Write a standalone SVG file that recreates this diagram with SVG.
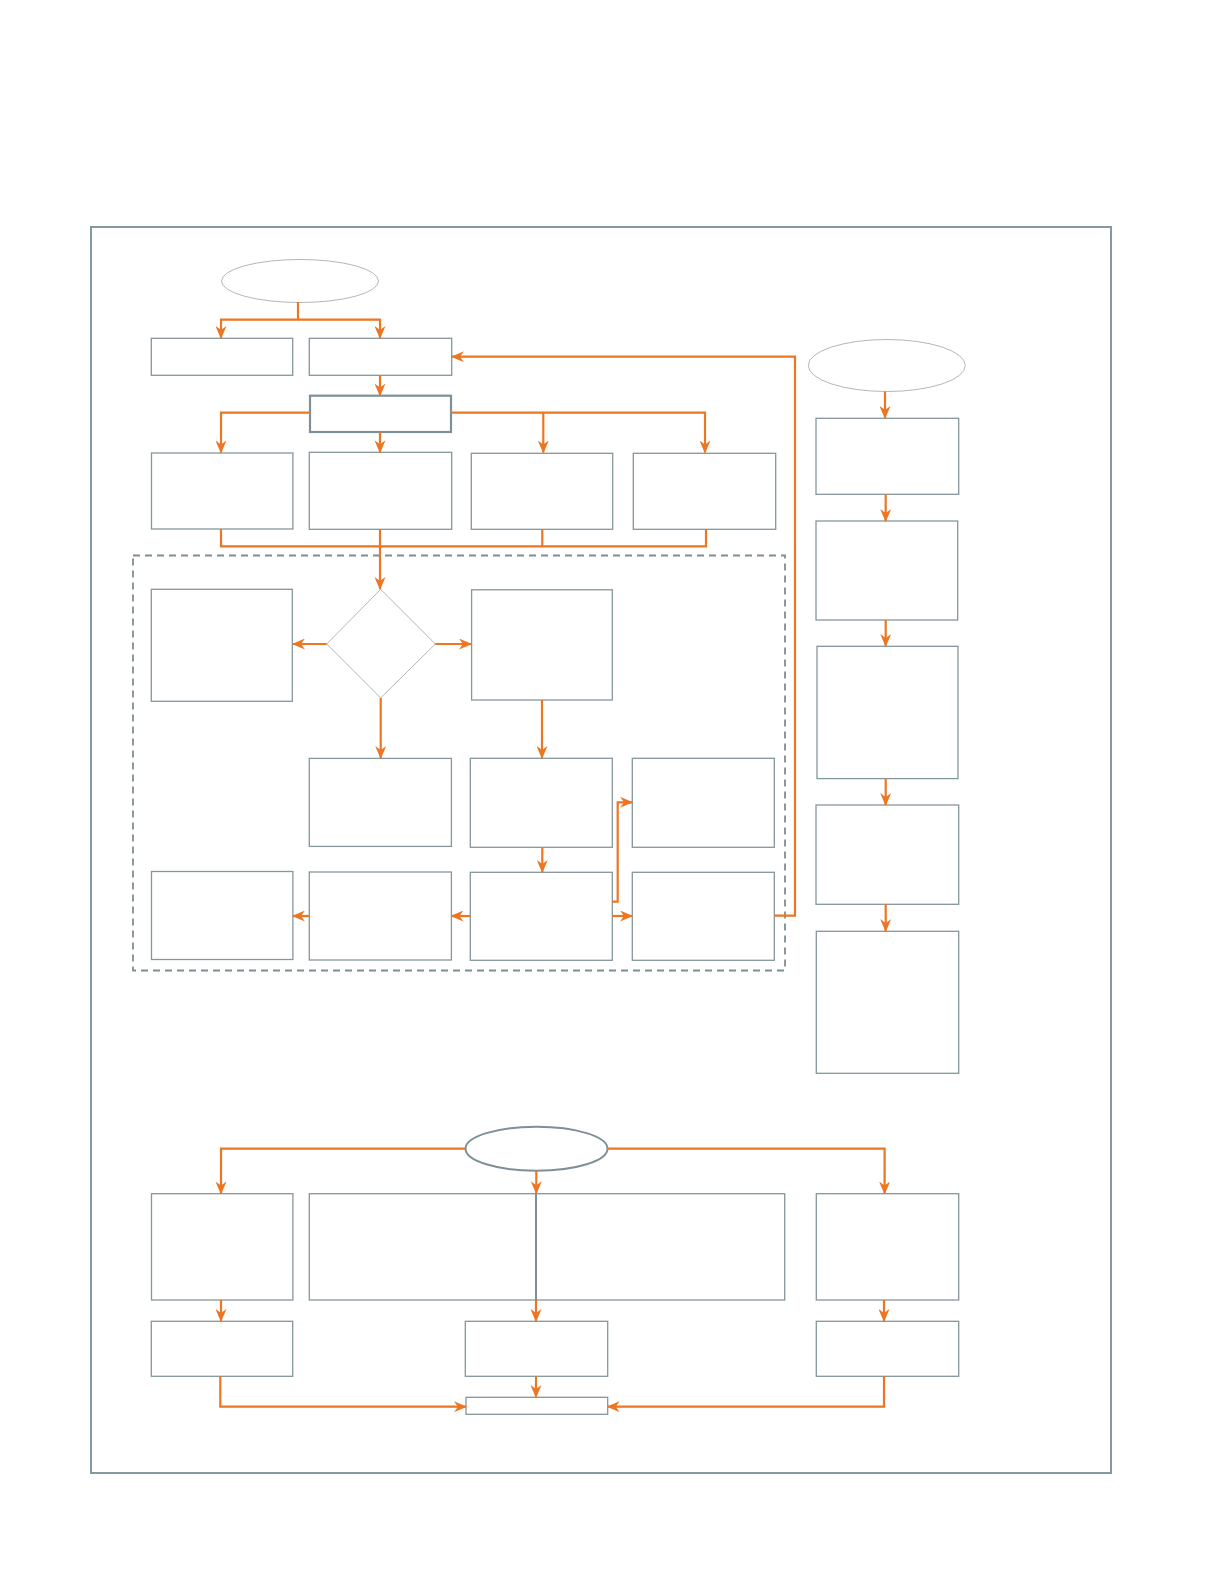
<svg xmlns="http://www.w3.org/2000/svg" width="1224" height="1584" viewBox="0 0 1224 1584">
<style>
.box{fill:#fff;stroke:#85979c;stroke-width:1.3}
.thick{fill:#fff;stroke:#7d9097;stroke-width:2.2}
.thin{fill:#fff;stroke:#b3b6b8;stroke-width:1}
.ell2{fill:#fff;stroke:#7d9097;stroke-width:2}
.c{fill:none;stroke:#ec7622;stroke-width:2.2}
.ca{fill:none;stroke:#ec7622;stroke-width:2.2;marker-end:url(#ah)}
.g{fill:none;stroke:#7d9097;stroke-width:2}
</style>
<defs>
<marker id="ah" markerUnits="userSpaceOnUse" markerWidth="13" markerHeight="11" refX="12" refY="5.5" orient="auto">
<path d="M0,0 L13,5.5 L0,11 L4,5.5 z" fill="#ec7622"/>
</marker>
</defs>
<rect width="1224" height="1584" fill="#fff"/>
<rect id="frame" x="91" y="227" width="1020" height="1246" fill="none" stroke="#8599a3" stroke-width="2"/>
<rect id="group" x="133" y="555.5" width="652" height="415" fill="none" stroke="#7f8e93" stroke-width="1.8" stroke-dasharray="7,5"/>
<g id="start1"><ellipse class="thin" cx="300" cy="281" rx="78.5" ry="21.5"/></g>
<g id="n_a"><rect class="box" x="151.3" y="338.3" width="141.4" height="37"/></g>
<g id="n_b"><rect class="box" x="309.3" y="338.3" width="142.4" height="37"/></g>
<g id="n_c"><rect class="thick" x="310" y="395.7" width="141" height="36.3"/></g>
<g id="n_r1"><rect class="box" x="151.5" y="453" width="141.4" height="76"/></g>
<g id="n_r2"><rect class="box" x="309.3" y="452.3" width="142.4" height="77"/></g>
<g id="n_r3"><rect class="box" x="471.3" y="453.3" width="141.4" height="76"/></g>
<g id="n_r4"><rect class="box" x="633.3" y="453.3" width="142.4" height="76"/></g>
<g id="n_left"><rect class="box" x="151.3" y="589.3" width="141" height="112"/></g>
<g id="n_diamond"><polygon class="thin" points="380.7,589.3 435.3,644 380.7,698 326.7,644"/></g>
<g id="n_rightdia"><rect class="box" x="471.6" y="589.8" width="140.7" height="110.2"/></g>
<g id="n_m1"><rect class="box" x="309.3" y="758.4" width="142.1" height="88"/></g>
<g id="n_m2"><rect class="box" x="470.3" y="758.3" width="142" height="89"/></g>
<g id="n_m3"><rect class="box" x="632.3" y="758.3" width="142" height="89"/></g>
<g id="n_l1"><rect class="box" x="151.5" y="871.5" width="141.4" height="88"/></g>
<g id="n_l2"><rect class="box" x="309.3" y="872" width="142.1" height="88"/></g>
<g id="n_l3"><rect class="box" x="470.3" y="872.3" width="142" height="88"/></g>
<g id="n_l4"><rect class="box" x="632.3" y="872.3" width="142" height="88"/></g>
<g id="start2"><ellipse class="thin" cx="886.8" cy="365.5" rx="78.5" ry="26"/></g>
<g id="n_s1"><rect class="box" x="816" y="418.3" width="142.7" height="76"/></g>
<g id="n_s2"><rect class="box" x="816" y="521" width="141.7" height="99"/></g>
<g id="n_s3"><rect class="box" x="817" y="646.3" width="141" height="132.3"/></g>
<g id="n_s4"><rect class="box" x="816" y="805" width="142.7" height="99.3"/></g>
<g id="n_s5"><rect class="box" x="816.3" y="931.3" width="142.4" height="142"/></g>
<g id="start3"><ellipse class="ell2" cx="536.5" cy="1148.7" rx="71" ry="22"/></g>
<g id="n_b1"><rect class="box" x="151.5" y="1193.7" width="141.4" height="106.3"/></g>
<g id="n_b2"><rect class="box" x="309.3" y="1193.7" width="475.4" height="106.3"/></g>
<g id="n_b3"><rect class="box" x="816.3" y="1193.7" width="142.4" height="106.3"/></g>
<g id="n_c1"><rect class="box" x="151.3" y="1321.3" width="141.4" height="55"/></g>
<g id="n_c2"><rect class="box" x="465.3" y="1321.3" width="142.4" height="55"/></g>
<g id="n_c3"><rect class="box" x="816.3" y="1321.3" width="142.4" height="55"/></g>
<g id="n_end"><rect class="box" x="466" y="1397.3" width="141.7" height="17"/></g>
<g id="connectors">
<path class="ca" d="M298,302 V319.7 H221 V338"/>
<path class="ca" d="M298,319.7 H380 V338"/>
<path class="ca" d="M380,375.3 V395.5"/>
<path class="ca" d="M310,412.7 H221 V452.5"/>
<path class="ca" d="M380,432 V452.3"/>
<path class="ca" d="M451,412.7 H705 V452.5"/>
<path class="ca" d="M543.3,412.7 V452.5"/>
<path class="c" d="M221,529 V546.3 H706 V529.3"/>
<path class="c" d="M542.3,529.3 V546.3"/>
<path class="ca" d="M380,529.3 V589"/>
<path class="ca" d="M326.7,644 H293"/>
<path class="ca" d="M435.3,644 H471"/>
<path class="ca" d="M380.7,698 V758"/>
<path class="ca" d="M542,700 V758"/>
<path class="ca" d="M542.3,847.3 V872"/>
<path class="ca" d="M470.3,916 H451.5"/>
<path class="ca" d="M309.3,916 H293"/>
<path class="ca" d="M612.3,916 H632"/>
<path class="ca" d="M612.3,901.7 H617.7 V802.3 H632"/>
<path class="ca" d="M774.3,915.7 H795 V356.7 H452"/>
<path class="ca" d="M885,391.5 V418"/>
<path class="ca" d="M885.7,494.3 V521"/>
<path class="ca" d="M885.7,620 V646"/>
<path class="ca" d="M885.7,778.6 V805"/>
<path class="ca" d="M885.7,904.3 V931"/>
<path class="ca" d="M465.5,1148.7 H221 V1193.5"/>
<path class="ca" d="M607.5,1148.7 H884.6 V1193.5"/>
<path class="ca" d="M536.3,1170.7 V1193.3"/>
<path class="g" d="M536,1193.7 V1300"/>
<path class="ca" d="M536,1300 V1321"/>
<path class="ca" d="M221,1300 V1321"/>
<path class="ca" d="M884,1300 V1321"/>
<path class="ca" d="M536,1376.3 V1397"/>
<path class="ca" d="M220.3,1376.3 V1406.7 H466"/>
<path class="ca" d="M884,1376.3 V1406.7 H607.7"/>
</g>
</svg>
